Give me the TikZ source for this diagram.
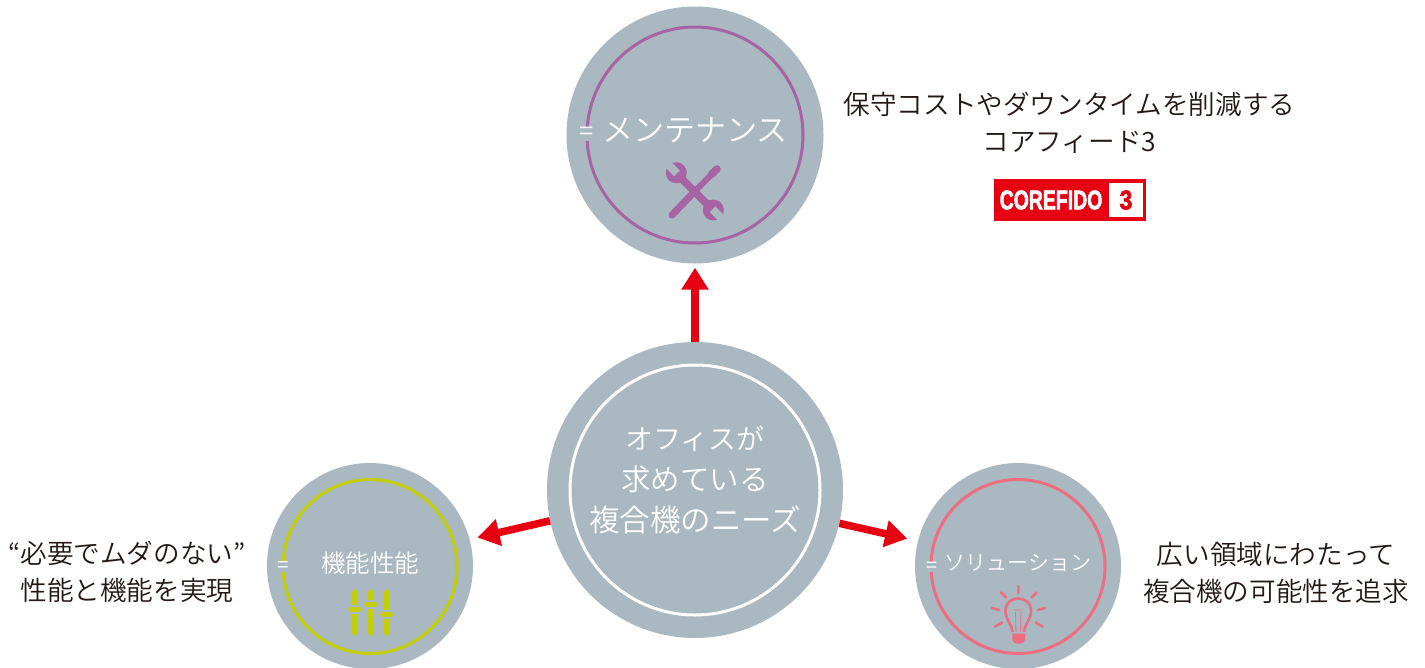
\documentclass[tikz,border=0pt]{standalone}
\usepackage{fontspec}
\setmainfont{Noto Sans CJK JP DemiLight}
\newfontfamily\logofont[FakeBold=2.5]{Liberation Sans Bold}
\usetikzlibrary{arrows.meta}
\definecolor{discgray}{HTML}{A9B8C1}
\definecolor{toolpurple}{HTML}{A763A3}
\definecolor{toollime}{HTML}{C4CE00}
\definecolor{toolpink}{HTML}{EE6D80}
\definecolor{arrowred}{HTML}{E60012}
\definecolor{inkdark}{HTML}{231815}
\tikzset{
  disc/.style={circle,fill=discgray,inner sep=0pt,minimum size=#1},
  ring/.style 2 args={circle,draw=#1,line width=3pt,inner sep=0pt,minimum size=#2},
  title/.style={text=white,inner sep=0pt,font=\fontsize{#1}{#1}\selectfont},
  equal/.style={text=white,fill=discgray,inner xsep=1pt,inner ysep=0pt,font=\fontsize{#1}{#1}\selectfont},
  caption/.style={text=inkdark,inner sep=0pt,align=center,font=\fontsize{26.6}{37}\selectfont},
}
\begin{document}
\begin{tikzpicture}[%
    x=1pt,
    y=-1pt,
    >={Triangle[width=26pt,length=22pt]},
  ]
    \useasboundingbox (0,0) rectangle (1425,667);

    \node[disc=296pt] (hub)   at (695,490)  {};
    \node[disc=257pt] (maint) at (695,135) {};
    \node[disc=206pt] (perf)  at (370,566)  {};
    \node[disc=206pt] (sol)   at (1018,566) {};

    \node[ring={white}{250pt}]      (hubring)   at (695,490)  {};
    \node[ring={toolpurple}{216pt}] (maintring) at (695,135)  {};
    \node[ring={toollime}{174pt}]   (perfring)  at (370,566.5) {};
    \node[ring={toolpink}{174pt}]   (solring)   at (1018,566.5) {};

    \path[->,arrowred,line width=7.5pt]
    (hub.north) edge [shorten >=4pt] (maint.south)
    (hub.192) edge [shorten >=8pt] (perf.15.7)
    (hub.-13.4) edge [shorten >=11pt] (sol.166.3)
    ;

    % labels
    \node[title=31,align=center,font=\fontsize{30.5}{41}\selectfont] (hubtext) at (695,480) {{\fontsize{28}{41}\selectfont オフィスが}\\{\fontsize{29.5}{41}\selectfont 求めている}\\複合機のニーズ};
    \node[title=31] (mainttext) at (695,130) {メンテナンス};
    \node[title=24.5] (perftext) at (370,563) {機能性能};
    \node[title=21] (soltext) at (1018,563) {ソリューション};
    \node[equal=26] (mainteq) at (587,134) {=};
    \node[equal=21] (perfeq) at (283.5,567) {=};
    \node[equal=20] (soleq) at (931.5,567) {=};

    \node[caption] (maintcap) at (1069.5,122.5) {保守コストやダウンタイムを削減する\\コアフィード3};
    \node[caption] (perfcap) at (127,571.5) {“必要でムダのない”\\性能と機能を実現};
    \node[caption] (solcap) at (1276,573) {広い領域にわたって\\複合機の可能性を追求};

    % logo
    \node[fill=arrowred,minimum width=152pt,minimum height=42pt,inner sep=0pt] (logo) at (1070,200) {};
    \node[fill=white,minimum size=34pt,inner sep=0pt] (logobox) at (1126,200) {};
    \node[text=white,inner sep=0pt,font=\logofont\fontsize{27}{27}\selectfont] (logotext) at (1051,200) {\scalebox{0.72}[1]{COREFIDO}};
    \node[text=arrowred,inner sep=0pt,font=\logofont\fontsize{27}{27}\selectfont] (logonum) at (1126,200) {\scalebox{0.85}[1]{3}};

    % tools
    \draw[toolpurple,line width=7pt,line cap=round] (672,215) -- (697,189);
    \draw[toolpurple,line width=6pt] (697,189) -- (711,175);
    \draw[toolpurple,line width=7.5pt,line cap=round] (711.5,174.5) -- (717,169);
    \draw[toolpurple,line width=7.5pt] (676,173) -- (713,210);
    \foreach \hx/\hy/\ha in {676.3/172.7/135, 713.3/210/-45} {
      \fill[toolpurple] (\hx,\hy) circle (10.5pt);
      \fill[discgray,shift={(\hx,\hy)},rotate=\ha] (-1,-4) rectangle (13,4);
    }

    % sliders
    \foreach \sx/\sy in {354.7/609, 370.7/604, 386.7/614.3} {
      \draw[toollime,line width=5pt,line cap=round] (\sx,592) -- (\sx,633);
      \draw[discgray,line width=9pt] (\sx-7,\sy) -- (\sx+7,\sy);
    }
    \foreach \sx/\sy in {354.7/609, 370.7/604, 386.7/614.3} {
      \draw[toollime,line width=5pt,line cap=round] (\sx-4,\sy) -- (\sx+4,\sy);
    }

    % bulb
    \draw[toolpink,line width=2.6pt,line cap=round]
      (1018.3,586) -- (1018.3,593)
      (1001,592.5) -- (1006,597.5)
      (1036.5,592.5) -- (1031.5,597.5)
      (992,608) -- (999,610)
      (1045,608) -- (1038,610)
      (995,626.5) -- (1002,622.5)
      (1042.5,626.5) -- (1035.5,622.5);
    \draw[toolpink,line width=2.6pt]
      (1012.5,632) .. controls (1012,624) and (1005.5,620) .. (1005.5,611)
      .. controls (1005.5,603) and (1011,598.5) .. (1018.3,598.5)
      .. controls (1025.5,598.5) and (1031,603) .. (1031,611)
      .. controls (1031,620) and (1024.5,624) .. (1024,632);
    \draw[toolpink,line width=0.8pt]
      (1016,632) -- (1015.5,612) (1020.5,632) -- (1021,612)
      (1014,610) -- (1022.5,610);
    \fill[toolpink] (1012.3,633.5) rectangle (1025,640)
      (1012.3,640) .. controls (1013,645) and (1024.5,645) .. (1025,640);
\end{tikzpicture}
\end{document}
